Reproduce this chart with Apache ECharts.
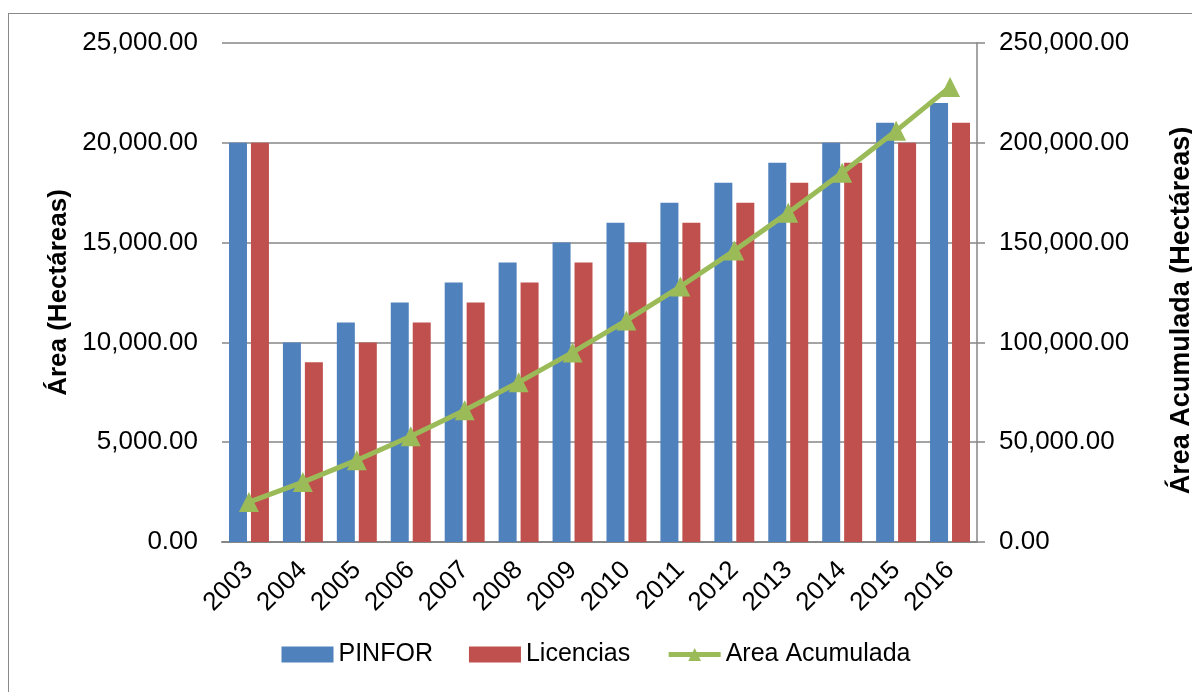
<!DOCTYPE html>
<html>
<head>
<meta charset="utf-8">
<script src="https://cdn.jsdelivr.net/npm/echarts@6/dist/echarts.min.js"></script>
<style>
    html, body { margin: 0; padding: 0; background: #fff; }
    #chart { width: 1192px; height: 692px; }
    .frame {
        position: absolute;
        left: 8px; top: 13px;
        width: 1200px; height: 700px;
        border: 1px solid #8a8a8a;
        pointer-events: none;
    }
</style>
</head>
<body>
<div id="chart"></div>
<div class="frame"></div>
<script>
// años
const years = ['2003', '2004', '2005', '2006', '2007', '2008', '2009',
    '2010', '2011', '2012', '2013', '2014', '2015', '2016'];
// área por año (hectáreas)
const pinfor = [20000, 10000, 11000, 12000, 13000, 14000, 15000,
    16000, 17000, 18000, 19000, 20000, 21000, 22000];
const licencias = [20000, 9000, 10000, 11000, 12000, 13000, 14000,
    15000, 16000, 17000, 18000, 19000, 20000, 21000];
// área acumulada (eje derecho)
const acumulada = [20000, 30000, 41000, 53000, 66000, 80000, 95000,
    111000, 128000, 146000, 165000, 185000, 206000, 228000];

const fmt = v => v.toLocaleString('en-US', {minimumFractionDigits: 2, maximumFractionDigits: 2});
const font = 'Liberation Sans, Arial, sans-serif';

let myChart = echarts.init(document.getElementById('chart'));
let option = {
    animation: false,
    textStyle: { fontFamily: font },
    grid: { left: 222, right: 215, top: 43, bottom: 150, outerBoundsMode: 'none' },
    legend: {
        bottom: 20,
        left: 'center',
        itemWidth: 52,
        itemHeight: 16,
        itemGap: 36,
        textStyle: { fontSize: 25, color: '#000', fontFamily: font },
        data: [
            { name: 'PINFOR', icon: 'rect' },
            { name: 'Licencias', icon: 'rect' },
            { name: 'Area Acumulada', lineStyle: { width: 5 } }
        ]
    },
    xAxis: {
        type: 'category',
        data: years,
        axisLine: { lineStyle: { color: '#868686', width: 2 } },
        axisTick: { show: false },
        axisLabel: { rotate: 45, fontSize: 26, color: '#000', margin: 24, interval: 0 }
    },
    yAxis: [
        {
            type: 'value',
            min: 0, max: 25000, interval: 5000,
            name: 'Área (Hectáreas)',
            nameLocation: 'middle',
            nameGap: 147,
            nameTextStyle: { fontSize: 26, fontWeight: 'bold', color: '#000' },
            axisLine: { show: false },
            axisTick: { show: false },
            splitLine: { lineStyle: { color: '#868686', width: 1.5 } },
            axisLabel: { fontSize: 26, color: '#000', margin: 24, formatter: fmt }
        },
        {
            type: 'value',
            min: 0, max: 250000, interval: 50000,
            name: 'Área Acumulada (Hectáreas)',
            nameLocation: 'middle',
            nameGap: 191,
            nameTextStyle: { fontSize: 27, fontWeight: 'bold', color: '#000', padding: [0, 36, 0, 0] },
            axisLine: { show: true, lineStyle: { color: '#868686', width: 1.5 } },
            axisTick: { show: true, length: 8, lineStyle: { color: '#868686', width: 1.5 } },
            splitLine: { show: false },
            axisLabel: { fontSize: 26, color: '#000', margin: 22, formatter: fmt }
        }
    ],
    series: [
        {
            name: 'PINFOR',
            type: 'bar',
            data: pinfor,
            barWidth: 18,
            barGap: '22%',
            itemStyle: { color: '#4F81BD' }
        },
        {
            name: 'Licencias',
            type: 'bar',
            data: licencias,
            barWidth: 18,
            itemStyle: { color: '#C0504D' }
        },
        {
            name: 'Area Acumulada',
            type: 'line',
            yAxisIndex: 1,
            data: acumulada,
            symbol: 'triangle',
            symbolSize: 20,
            lineStyle: { color: '#9BBB59', width: 5 },
            itemStyle: { color: '#9BBB59' }
        }
    ]
};
option && myChart.setOption(option);
</script>
</body>
</html>
